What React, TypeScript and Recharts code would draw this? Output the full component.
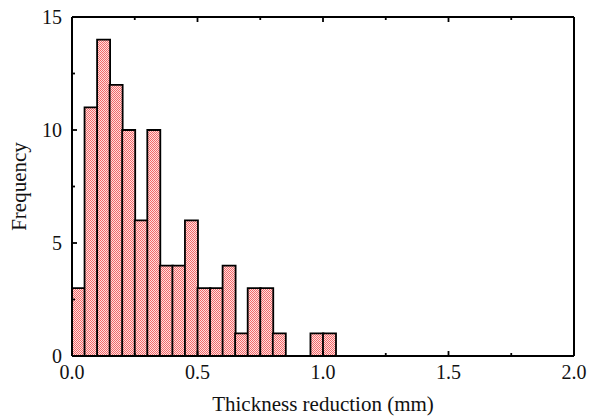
import React from 'react';
import { ComposedChart, Bar, Line, XAxis, YAxis, Label } from 'recharts';

// Histogram bins (bin centres, width 0.05 mm) and counts
const binCenters = [0.025, 0.075, 0.125, 0.175, 0.225, 0.275, 0.325, 0.375, 0.425, 0.475, 0.525, 0.575, 0.625, 0.675, 0.725, 0.775, 0.825, 0.875, 0.925, 0.975, 1.025];
const counts = [3, 11, 14, 12, 10, 6, 10, 4, 4, 6, 3, 3, 4, 1, 3, 3, 1, 0, 0, 1, 1];

const xTicks = [0, 0.25, 0.5, 0.75, 1.0, 1.25, 1.5, 1.75, 2.0];
const xLabels = ['0.0', '', '0.5', '', '1.0', '', '1.5', '', '2.0'];
const yTicks = [0, 2.5, 5, 7.5, 10, 12.5, 15];
const yLabels = ['0', '', '5', '', '10', '', '15'];

const data = binCenters.map((x, i) => ({ x, count: counts[i] }));

const FONT = '"Liberation Serif", "DejaVu Serif", serif';

const BottomTick = (props: any) => {
  const { x, y, index } = props;
  const major = xLabels[index] !== '';
  return (
    <g>
      <line x1={x} x2={x} y1={y} y2={y - (major ? 5 : 3)} stroke="#000" strokeWidth={1.8} />
      {major && (
        <text x={x} y={y + 23} textAnchor="middle" fontFamily={FONT} fontSize={20} fill="#111">
          {xLabels[index]}
        </text>
      )}
    </g>
  );
};

const TopTick = (props: any) => {
  const { x, y, index } = props;
  const major = xLabels[index] !== '';
  return <line x1={x} x2={x} y1={y} y2={y + (major ? 5 : 3)} stroke="#000" strokeWidth={1.8} />;
};

const LeftTick = (props: any) => {
  const { x, y, index } = props;
  const major = yLabels[index] !== '';
  return (
    <g>
      <line x1={x} x2={x + (major ? 5 : 3)} y1={y} y2={y} stroke="#000" strokeWidth={1.8} />
      {major && (
        <text x={x - 10} y={y + 7} textAnchor="end" fontFamily={FONT} fontSize={20} fill="#111">
          {yLabels[index]}
        </text>
      )}
    </g>
  );
};

export default function App() {
  return (
    <div style={{ position: 'absolute', left: 0, top: 0, width: 591, height: 419, background: '#fff' }}>
      <ComposedChart
        width={591}
        height={419}
        data={data}
        margin={{ top: 16, right: 16, left: 0, bottom: 0 }}
        barCategoryGap={0}
        barGap={0}
      >
        <defs>
          <pattern id="check" width="2" height="2" patternUnits="userSpaceOnUse">
            <rect x="0" y="0" width="2" height="2" fill="#ffdede" />
            <rect x="0" y="0" width="1" height="1" fill="#f26a6a" />
            <rect x="1" y="1" width="1" height="1" fill="#f26a6a" />
          </pattern>
        </defs>
        <XAxis
          dataKey="x"
          type="number"
          domain={[0, 2]}
          ticks={xTicks}
          interval={0}
          height={63}
          tickSize={0}
          tickMargin={0}
          tickLine={false}
          stroke="#000"
          strokeWidth={2}
          axisLine={true}
          tick={<BottomTick />}
          allowDataOverflow
        >
          <Label
            content={(p: any) => {
              const vb = p.viewBox;
              return (
                <text x={vb.x + vb.width / 2} y={vb.y + vb.height - 8} textAnchor="middle" fontFamily={FONT} fontSize={21} fill="#111">
                  Thickness reduction (mm)
                </text>
              );
            }}
          />
        </XAxis>
        <XAxis
          xAxisId="top"
          dataKey="x"
          orientation="top"
          type="number"
          domain={[0, 2]}
          ticks={xTicks}
          interval={0}
          height={1}
          tickSize={0}
          tickMargin={0}
          tickLine={false}
          stroke="#000"
          strokeWidth={2}
          axisLine={true}
          tick={<TopTick />}
          allowDataOverflow
        />
        <YAxis
          type="number"
          domain={[0, 15]}
          ticks={yTicks}
          interval={0}
          width={72}
          tickSize={0}
          tickMargin={0}
          tickLine={false}
          stroke="#000"
          strokeWidth={2}
          axisLine={true}
          tick={<LeftTick />}
          allowDataOverflow
        >
          <Label
            content={(p: any) => {
              const vb = p.viewBox;
              const cx = vb.x + 26;
              const cy = vb.y + vb.height / 2;
              return (
                <text x={cx} y={cy} transform={`rotate(-90 ${cx} ${cy})`} textAnchor="middle" fontFamily={FONT} fontSize={21} fill="#111">
                  Frequency
                </text>
              );
            }}
          />
        </YAxis>
        <YAxis
          yAxisId="right"
          orientation="right"
          type="number"
          domain={[0, 15]}
          width={1}
          tick={false}
          tickLine={false}
          stroke="#000"
          strokeWidth={2}
          axisLine={true}
          allowDataOverflow
        />
        <Bar
          dataKey="count"
          fill="url(#check)"
          stroke="#000"
          strokeWidth={1.8}
          isAnimationActive={false}
        />
        <Line
          xAxisId="top"
          yAxisId="right"
          dataKey="count"
          stroke="none"
          dot={false}
          activeDot={false}
          legendType="none"
          isAnimationActive={false}
        />
      </ComposedChart>
    </div>
  );
}
